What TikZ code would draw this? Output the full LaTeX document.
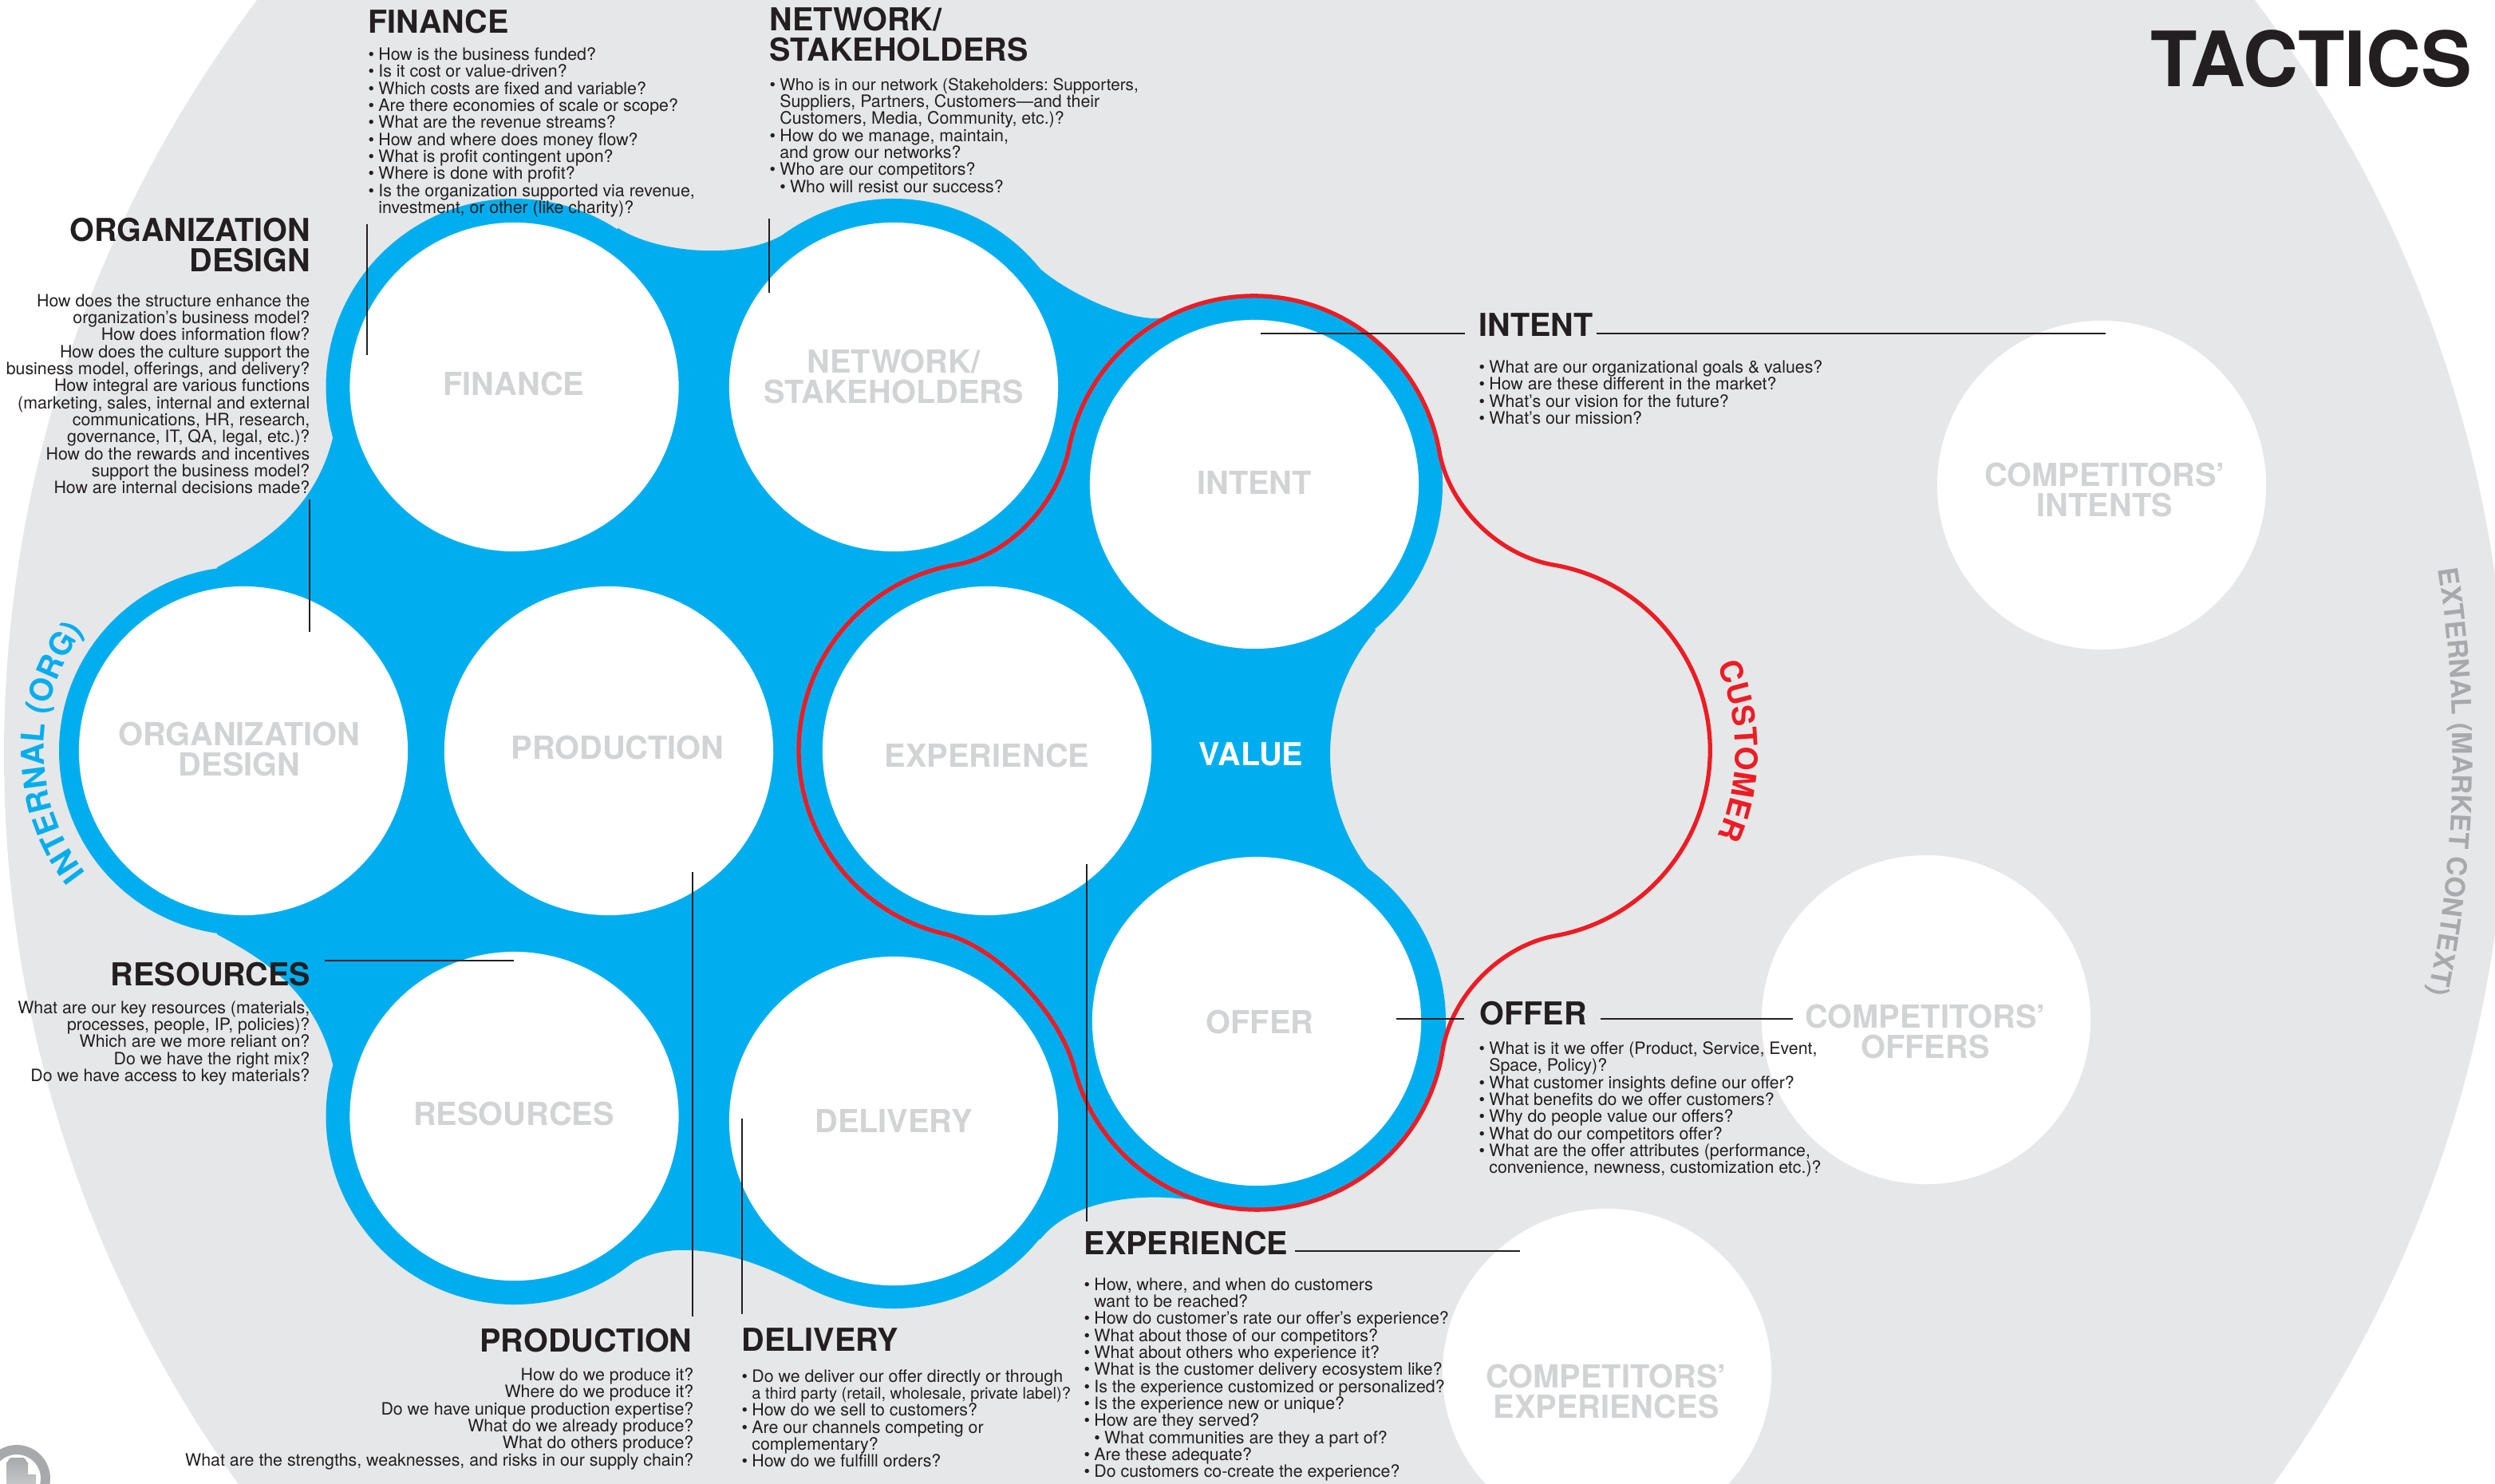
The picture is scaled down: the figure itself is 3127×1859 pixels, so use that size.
\documentclass[tikz,border=0pt]{standalone}
\usepackage{fontspec}
\usetikzlibrary{positioning,decorations.text}
\setmainfont{TeX Gyre Heros}
\definecolor{valueblue}{HTML}{00AEEF}
\definecolor{marketgrey}{HTML}{E6E7E8}
\definecolor{taggrey}{HTML}{D1D3D4}
\definecolor{contextgrey}{HTML}{A7A9AC}
\definecolor{customerred}{HTML}{ED1C24}
\definecolor{ink}{HTML}{231F20}
\newcommand{\bul}{\makebox[3.6pt][l]{\textbullet}}
\newcommand{\ind}{\hspace*{3.6pt}}
\newcommand{\curvefont}{\bfseries\fontsize{11.2}{11.2}\selectfont}
\begin{document}
\begin{tikzpicture}[x=0.01cm,y=-0.01cm]
            \tikzset{
                bubble/.style={circle,fill=white,inner sep=0pt,minimum size=4.12cm},
                blobdisk/.style={fill=valueblue},
                tag/.style={text=taggrey,align=center,inner sep=0pt,font=\bfseries\fontsize{11.3}{11}\selectfont},
                head/.style={text=ink,inner sep=0pt,font=\bfseries\fontsize{11.25}{11}\selectfont},
                askleft/.style={text=ink,inner sep=0pt,anchor=north west,align=left,font=\frenchspacing\fontsize{6.07}{6.06}\selectfont},
                askright/.style={text=ink,inner sep=0pt,anchor=north east,align=right,font=\frenchspacing\fontsize{6.07}{6.06}\selectfont},
                leader/.style={draw=ink,line width=0.7pt},
            }
            \useasboundingbox (0,0) rectangle (3127,1859);
            \fill[marketgrey] (1574,946) circle (1569);
            % icon at the corner
            \draw[contextgrey,line width=3.4pt] (21,1853) circle (36);
            \shade[top color=contextgrey,bottom color=taggrey] (8,1875) -- (8,1833) to[out=-90,in=180] (14,1827) -- (29,1827) to[out=0,in=-90] (35,1833) -- (35,1848) -- (45,1848) -- (45,1875) -- cycle;
            % blue shape
            \fill[blobdisk] (644.5,485) circle (236);
            \fill[blobdisk] (1120,485) circle (236);
            \fill[blobdisk] (1572,607) circle (236);
            \fill[blobdisk] (305,941) circle (231);
            \fill[blobdisk] (644.5,1399) circle (236);
            \fill[blobdisk] (1120,1405) circle (235);
            \fill[blobdisk] (1575,1280) circle (237);
            \fill[blobdisk] (775,286) .. controls (826,319) and (936,326) .. (986,291)
                -- (1292,326) .. controls (1329,366) and (1432,413) .. (1468,395)
                -- (1724,790) arc[start angle=220.3,end angle=139.6,radius=240]
                -- (1518,1509) .. controls (1450,1492) and (1348,1498) .. (1304,1553)
                -- (1002,1609) .. controls (938,1575) and (843,1545) .. (785,1588)
                -- (418,1338) .. controls (395,1237) and (320,1197) .. (272,1171)
                -- (272,711) .. controls (320,685) and (395,645) .. (418,545)
                -- cycle;
            % circles
            \node[bubble] (finance) at (644.5,485) {};
            \node[bubble] (network) at (1120,485) {};
            \node[bubble] (intent) at (1572,607) {};
            \node[bubble] (organization) at (305,941) {};
            \node[bubble] (production) at (763,941) {};
            \node[bubble] (experience) at (1237,941) {};
            \node[bubble] (resources) at (644.5,1399) {};
            \node[bubble] (delivery) at (1120,1405) {};
            \node[bubble] (offer) at (1575,1280) {};
            \node[bubble] (rivalintents) at (2634,608) {};
            \node[bubble] (rivaloffers) at (2414,1278) {};
            \node[bubble] (rivalexperiences) at (2014,1721) {};
            \node[tag] (financetag) at (644,481) {FINANCE};
            \node[tag] (networktag) at (1120,472) {NETWORK/\\STAKEHOLDERS};
            \node[tag] (intenttag) at (1572,605) {INTENT};
            \node[tag] (organizationtag) at (300,939) {ORGANIZATION\\DESIGN};
            \node[tag] (productiontag) at (774,937) {PRODUCTION};
            \node[tag] (experiencetag) at (1237,947) {EXPERIENCE};
            \node[tag] (resourcestag) at (644,1396) {RESOURCES};
            \node[tag] (deliverytag) at (1120,1405) {DELIVERY};
            \node[tag] (offertag) at (1579,1281) {OFFER};
            \node[tag] (rivalintentstag) at (2638,614) {COMPETITORS’\\INTENTS};
            \node[tag] (rivalofferstag) at (2413,1293) {COMPETITORS’\\OFFERS};
            \node[tag] (rivalexperiencestag) at (2013,1744) {COMPETITORS’\\EXPERIENCES};
            \node[head,text=white] (valuetag) at (1568,945) {VALUE};
            % customer outline
            \draw[customerred,line width=1.5pt] (1197,708) .. controls (1266,696) and (1326,630) .. (1340,561)
                arc[start angle=191.2,end angle=350,radius=236]
                .. controls (1816,635) and (1878,696) .. (1947,708)
                arc[start angle=279.7,end angle=440,radius=236]
                .. controls (1880,1186) and (1819,1248) .. (1808,1317)
                arc[start angle=9,end angle=165.7,radius=236]
                .. controls (1328,1270) and (1250,1186) .. (1182,1170)
                arc[start angle=103.5,end angle=260.2,radius=236]
                -- cycle;
            % curved titles
            \path[decorate,decoration={text along path,text align=center,text={|\curvefont\color{valueblue}|INTERNAL (ORG)}}]
                ([shift={(140:250)}]305,941) arc[start angle=140,end angle=219,radius=250];
            \path[decorate,decoration={text along path,text align=center,text={|\bfseries\fontsize{11}{11}\selectfont\color{customerred}|CUSTOMER}}]
                ([shift={(-30:268)}]1907,941) arc[start angle=-30,end angle=30,radius=268];
            \path[decorate,decoration={text along path,text align=center,text={|\bfseries\fontsize{9.7}{9.7}\selectfont\color{contextgrey}|EXTERNAL (MARKET CONTEXT)}}]
                ([shift={(-10.7:1500)}]1574,946) arc[start angle=-10.7,end angle=13.3,radius=1500];
            \node[head,anchor=base east,font=\bfseries\fontsize{27.2}{27.2}\selectfont] (tactics) at (3099,108) {TACTICS};
            % headings
            \node[head,anchor=north west] (financehead) at (461,11) {FINANCE};
            \node[askleft] (financeask) at (461,59) {\bul How is the business funded?\\
                \bul Is it cost or value-driven?\\
                \bul Which costs are fixed and variable?\\
                \bul Are there economies of scale or scope?\\
                \bul What are the revenue streams?\\
                \bul How and where does money flow?\\
                \bul What is profit contingent upon?\\
                \bul Where is done with profit?\\
                \bul Is the organization supported via revenue,\\
                \ind investment, or other (like charity)?};
            \node[head,anchor=north west,align=left] (networkhead) at (964,8) {NETWORK/\\STAKEHOLDERS};
            \node[askleft] (networkask) at (964,97) {\bul {\fontsize{5.87}{6.06}\selectfont Who is in our network (Stakeholders: Supporters,}\\
                \ind Suppliers, Partners, Customers—and their\\
                \ind Customers, Media, Community, etc.)?\\
                \bul How do we manage, maintain,\\
                \ind and grow our networks?\\
                \bul Who are our competitors?\\
                \ind\bul Who will resist our success?};
            \node[head,anchor=north east,align=right] (organizationhead) at (390,272) {ORGANIZATION\\DESIGN};
            \node[askright] (organizationask) at (389,368) {How does the structure enhance the\\
                organization’s business model?\\
                How does information flow?\\
                How does the culture support the\\
                business model, offerings, and delivery?\\
                How integral are various functions\\
                (marketing, sales, internal and external\\
                communications, HR, research,\\
                governance, IT, QA, legal, etc.)?\\
                How do the rewards and incentives\\
                support the business model?\\
                How are internal decisions made?};
            \node[head,anchor=north east] (resourceshead) at (390,1205) {RESOURCES};
            \node[askright] (resourcesask) at (389,1254) {What are our key resources (materials,\\
                processes, people, IP, policies)?\\
                Which are we more reliant on?\\
                Do we have the right mix?\\
                Do we have access to key materials?};
            \node[head,anchor=north east] (productionhead) at (868,1664) {PRODUCTION};
            \node[askright] (productionask) at (870,1714) {How do we produce it?\\
                Where do we produce it?\\
                Do we have unique production expertise?\\
                What do we already produce?\\
                What do others produce?\\
                What are the strengths, weaknesses, and risks in our supply chain?};
            \node[head,anchor=north west] (deliveryhead) at (929,1664) {DELIVERY};
            \node[askleft] (deliveryask) at (929,1716) {\bul Do we deliver our offer directly or through\\
                \ind {\fontsize{5.72}{6.06}\selectfont a third party (retail, wholesale, private label)?}\\
                \bul How do we sell to customers?\\
                \bul Are our channels competing or\\
                \ind complementary?\\
                \bul How do we fulfilll orders?};
            \node[head,anchor=north west] (experiencehead) at (1358,1542) {EXPERIENCE};
            \node[askleft] (experienceask) at (1358,1601) {\bul How, where, and when do customers\\
                \ind want to be reached?\\
                \bul How do customer’s rate our offer’s experience?\\
                \bul What about those of our competitors?\\
                \bul What about others who experience it?\\
                \bul What is the customer delivery ecosystem like?\\
                \bul Is the experience customized or personalized?\\
                \bul Is the experience new or unique?\\
                \bul How are they served?\\
                \ind\bul What communities are they a part of?\\
                \bul Are these adequate?\\
                \bul Do customers co-create the experience?};
            \node[head,anchor=north west] (offerhead) at (1854,1254) {OFFER};
            \node[askleft] (offerask) at (1853,1305) {\bul What is it we offer (Product, Service, Event,\\
                \ind Space, Policy)?\\
                \bul What customer insights define our offer?\\
                \bul What benefits do we offer customers?\\
                \bul Why do people value our offers?\\
                \bul What do our competitors offer?\\
                \bul What are the offer attributes (performance,\\
                \ind convenience, newness, customization etc.)?};
            \node[head,anchor=north west] (intenthead) at (1853,392) {INTENT};
            \node[askleft] (intentask) at (1853,451) {\bul What are our organizational goals \& values?\\
                \bul How are these different in the market?\\
                \bul What’s our vision for the future?\\
                \bul What’s our mission?};
            % pointers
            \coordinate (financetop) at (460,281);
            \coordinate (financepin) at (460,445);
            \coordinate (networktop) at (964,274);
            \coordinate (networkpin) at (964,367);
            \coordinate (organizationtop) at (388,626);
            \coordinate (organizationpin) at (388,792);
            \coordinate (resourcesstart) at (407,1204);
            \coordinate (resourcespin) at (644,1204);
            \coordinate (productionpin) at (868,1093);
            \coordinate (productionend) at (868,1650);
            \coordinate (deliverypin) at (930,1402);
            \coordinate (deliveryend) at (930,1647);
            \coordinate (experiencepin) at (1362,1083);
            \coordinate (experienceend) at (1362,1531);
            \coordinate (experiencestart) at (1623,1568);
            \coordinate (rivalexperiencespin) at (1905,1568);
            \coordinate (intentpin) at (1580,418);
            \coordinate (intentstop) at (1836,418);
            \coordinate (intentstart) at (2001,418);
            \coordinate (rivalintentspin) at (2639,418);
            \coordinate (offerpin) at (1750,1277);
            \coordinate (offerstop) at (1835,1277);
            \coordinate (offerstart) at (2006,1277);
            \coordinate (rivalofferspin) at (2247,1277);
            \draw[leader] (financetop) -- (financepin);
            \draw[leader] (networktop) -- (networkpin);
            \draw[leader] (organizationtop) -- (organizationpin);
            \draw[leader] (resourcesstart) -- (resourcespin);
            \draw[leader] (productionpin) -- (productionend);
            \draw[leader] (deliverypin) -- (deliveryend);
            \draw[leader] (experiencepin) -- (experienceend);
            \draw[leader] (experiencestart) -- (rivalexperiencespin);
            \draw[leader] (intentpin) -- (intentstop);
            \draw[leader] (intentstart) -- (rivalintentspin);
            \draw[leader] (offerpin) -- (offerstop);
            \draw[leader] (offerstart) -- (rivalofferspin);
        \end{tikzpicture}
\end{document}
